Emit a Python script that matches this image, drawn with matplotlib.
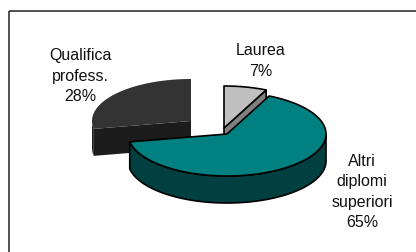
import numpy as np
import matplotlib
matplotlib.use("Agg")
import matplotlib.pyplot as plt
from matplotlib.patches import Polygon

# ---- data ----
categories = ["Laurea", "Altri\ndiplomi\nsuperiori", "Qualifica\nprofess."]
values = [7, 65, 28]

# ---- style / layout ----
top_colors = ["#c0c0c0", "#008080", "#333333"]
side_colors = ["#808080", "#004040", "#1c1c1c"]
edge_colors = ["black", "black", "none"]
base_center = np.array([227.0, 135.0])
offsets = [np.array([-3.0, -6.0]), np.array([0.0, 0.0]), np.array([-36.0, -13.0])]
RX, RY, DEPTH = 99.0, 42.0, 27.0
label_pos = [(261, 61), (362, 192), (80, 76)]

W, H = 416, 253
fig = plt.figure(figsize=(W / 100, H / 100), dpi=100)
ax = fig.add_axes([0, 0, 1, 1])
ax.set_xlim(0, W)
ax.set_ylim(H, 0)
ax.axis("off")

# frame (top and left lines)
ax.plot([9, W], [12, 12], color="#222222", lw=1.1, solid_capstyle="butt")
ax.plot([9, 9], [12, H], color="#222222", lw=1.1, solid_capstyle="butt")


def rim(c, th):
    t = np.radians(th)
    return np.array([c[0] + RX * np.sin(t), c[1] - RY * np.cos(t)])


def arc(c, a, b, n=80):
    ts = np.linspace(a, b, n)
    return np.array([rim(c, t) for t in ts])


def add(poly, fc, ec, z):
    ax.add_patch(Polygon(poly, closed=True, facecolor=fc, edgecolor=ec,
                         lw=1.2 if ec != "none" else 0, joinstyle="round", zorder=z))


total = sum(values)
bounds = np.concatenate([[0], np.cumsum(values) / total * 360.0])
d = np.array([0, DEPTH])

# drawing order: back slices first (Qualifica, Laurea), then front (Altri)
order = [2, 0, 1]
z = 1
for i in order:
    a, b = bounds[i], bounds[i + 1]
    c = base_center + offsets[i]
    # radial cut faces turned toward the viewer
    if i == 0:
        p = rim(c, b)
        add(np.array([c, p, p + d, c + d]), side_colors[i], edge_colors[i], z); z += 1
    if i == 2:
        p = rim(c, a)
        add(np.array([c, p, p + d, c + d]), side_colors[i], edge_colors[i], z); z += 1
    # outer side: visible part is between 90 and 270 deg
    lo, hi = max(a, 90), min(b, 270)
    if hi > lo:
        top_arc = arc(c, lo, hi)
        side = np.vstack([top_arc, (top_arc + d)[::-1]])
        add(side, side_colors[i], edge_colors[i], z); z += 1
    # top face
    top = np.vstack([c, arc(c, a, b)])
    add(top, top_colors[i], edge_colors[i], z); z += 1

# labels
for i, (x, y) in enumerate(label_pos):
    ax.text(x, y, f"{categories[i]}\n{values[i]}%", ha="center", va="center",
            fontsize=11.5, family=["Liberation Sans", "DejaVu Sans"],
            linespacing=1.45, color="#111111", zorder=20)

fig.savefig("out.png", dpi=100)
